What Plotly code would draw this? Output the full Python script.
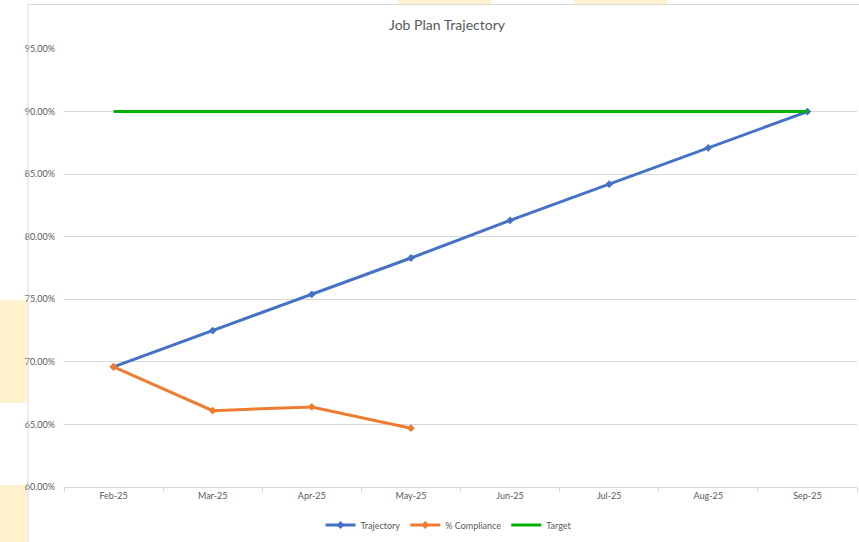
import plotly.graph_objects as go

# Monthly categories and series values (fractions)
months = ["Feb-25", "Mar-25", "Apr-25", "May-25", "Jun-25", "Jul-25", "Aug-25", "Sep-25"]
trajectory = [0.696, 0.725, 0.754, 0.783, 0.813, 0.842, 0.871, 0.900]
compliance = [0.696, 0.661, 0.664, 0.647]
target = [0.90, 0.90, 0.90, 0.90, 0.90, 0.90, 0.90, 0.90]
y_ticks = [0.60, 0.65, 0.70, 0.75, 0.80, 0.85, 0.90, 0.95]

W, H = 859, 542
L, R, T, B = 64, 2, 49, 55
plot_w = W - L - R
plot_h = H - T - B
TEXT = "#595959"
GRID = "#D9D9D9"
FONT = "Lato, Liberation Sans, sans-serif"


def px_x(px):
    return (px - L) / plot_w


def px_y(py):
    return (H - B - py) / plot_h


fig = go.Figure()
fig.add_trace(go.Scatter(
    x=months, y=trajectory, name="Trajectory", mode="lines+markers",
    line=dict(color="#4472C4", width=3),
    marker=dict(symbol="diamond", size=6, color="#4472C4"),
))
fig.add_trace(go.Scatter(
    x=months[:len(compliance)], y=compliance, name="% Compliance", mode="lines+markers",
    line=dict(color="#ED7D31", width=3),
    marker=dict(symbol="diamond", size=6, color="#ED7D31"),
))
fig.add_trace(go.Scatter(
    x=months, y=target, name="Target", mode="lines",
    line=dict(color="#00B000", width=3),
))

shapes = []
# Surrounding sheet cells with a pale fill
for x0, y0, x1, y1 in [(0, 300, 27, 403), (0, 485, 27, 542), (398, 0, 491, 4), (574, 0, 667, 4)]:
    shapes.append(dict(type="rect", xref="paper", yref="paper", layer="below",
                       x0=px_x(x0), x1=px_x(x1), y0=px_y(y1), y1=px_y(y0),
                       fillcolor="#FFF2CC", line=dict(width=0)))
# Chart area border
shapes.append(dict(type="line", xref="paper", yref="paper",
                   x0=px_x(28), x1=px_x(28), y0=px_y(4.5), y1=px_y(542),
                   line=dict(color=GRID, width=1)))
shapes.append(dict(type="line", xref="paper", yref="paper",
                   x0=px_x(28), x1=px_x(859), y0=px_y(4.5), y1=px_y(4.5),
                   line=dict(color=GRID, width=1)))

fig.update_layout(
    width=W, height=H,
    margin=dict(l=L, r=R, t=T, b=B),
    paper_bgcolor="white", plot_bgcolor="white",
    font=dict(family=FONT, color=TEXT, size=9),
    title=dict(text="Job Plan Trajectory", x=447 / W, xanchor="center",
               y=1 - 25 / H, yanchor="middle",
               font=dict(family=FONT, size=14, color=TEXT)),
    xaxis=dict(
        type="category", categoryorder="array", categoryarray=months,
        range=[-0.5, len(months) - 0.5],
        showgrid=False, showline=True, linecolor=GRID, linewidth=1,
        ticks="outside", tickson="boundaries", ticklen=4, tickcolor=GRID,
        tickfont=dict(size=9, color=TEXT, family=FONT), zeroline=False,
    ),
    yaxis=dict(
        range=[0.60, 0.95], tickvals=y_ticks, tickformat=".2%",
        showgrid=True, gridcolor=GRID, gridwidth=1, zeroline=False,
        showline=False, ticks="", ticklabelstandoff=8,
        tickfont=dict(size=9, color=TEXT, family=FONT),
    ),
    legend=dict(orientation="h", x=0.5 * (px_x(363) + px_x(535)), xanchor="center",
                y=px_y(525), yanchor="middle", itemwidth=30,
                font=dict(size=9, color=TEXT, family=FONT),
                bgcolor="rgba(0,0,0,0)"),
    shapes=shapes,
    showlegend=True,
)

fig.write_html("out.html")
